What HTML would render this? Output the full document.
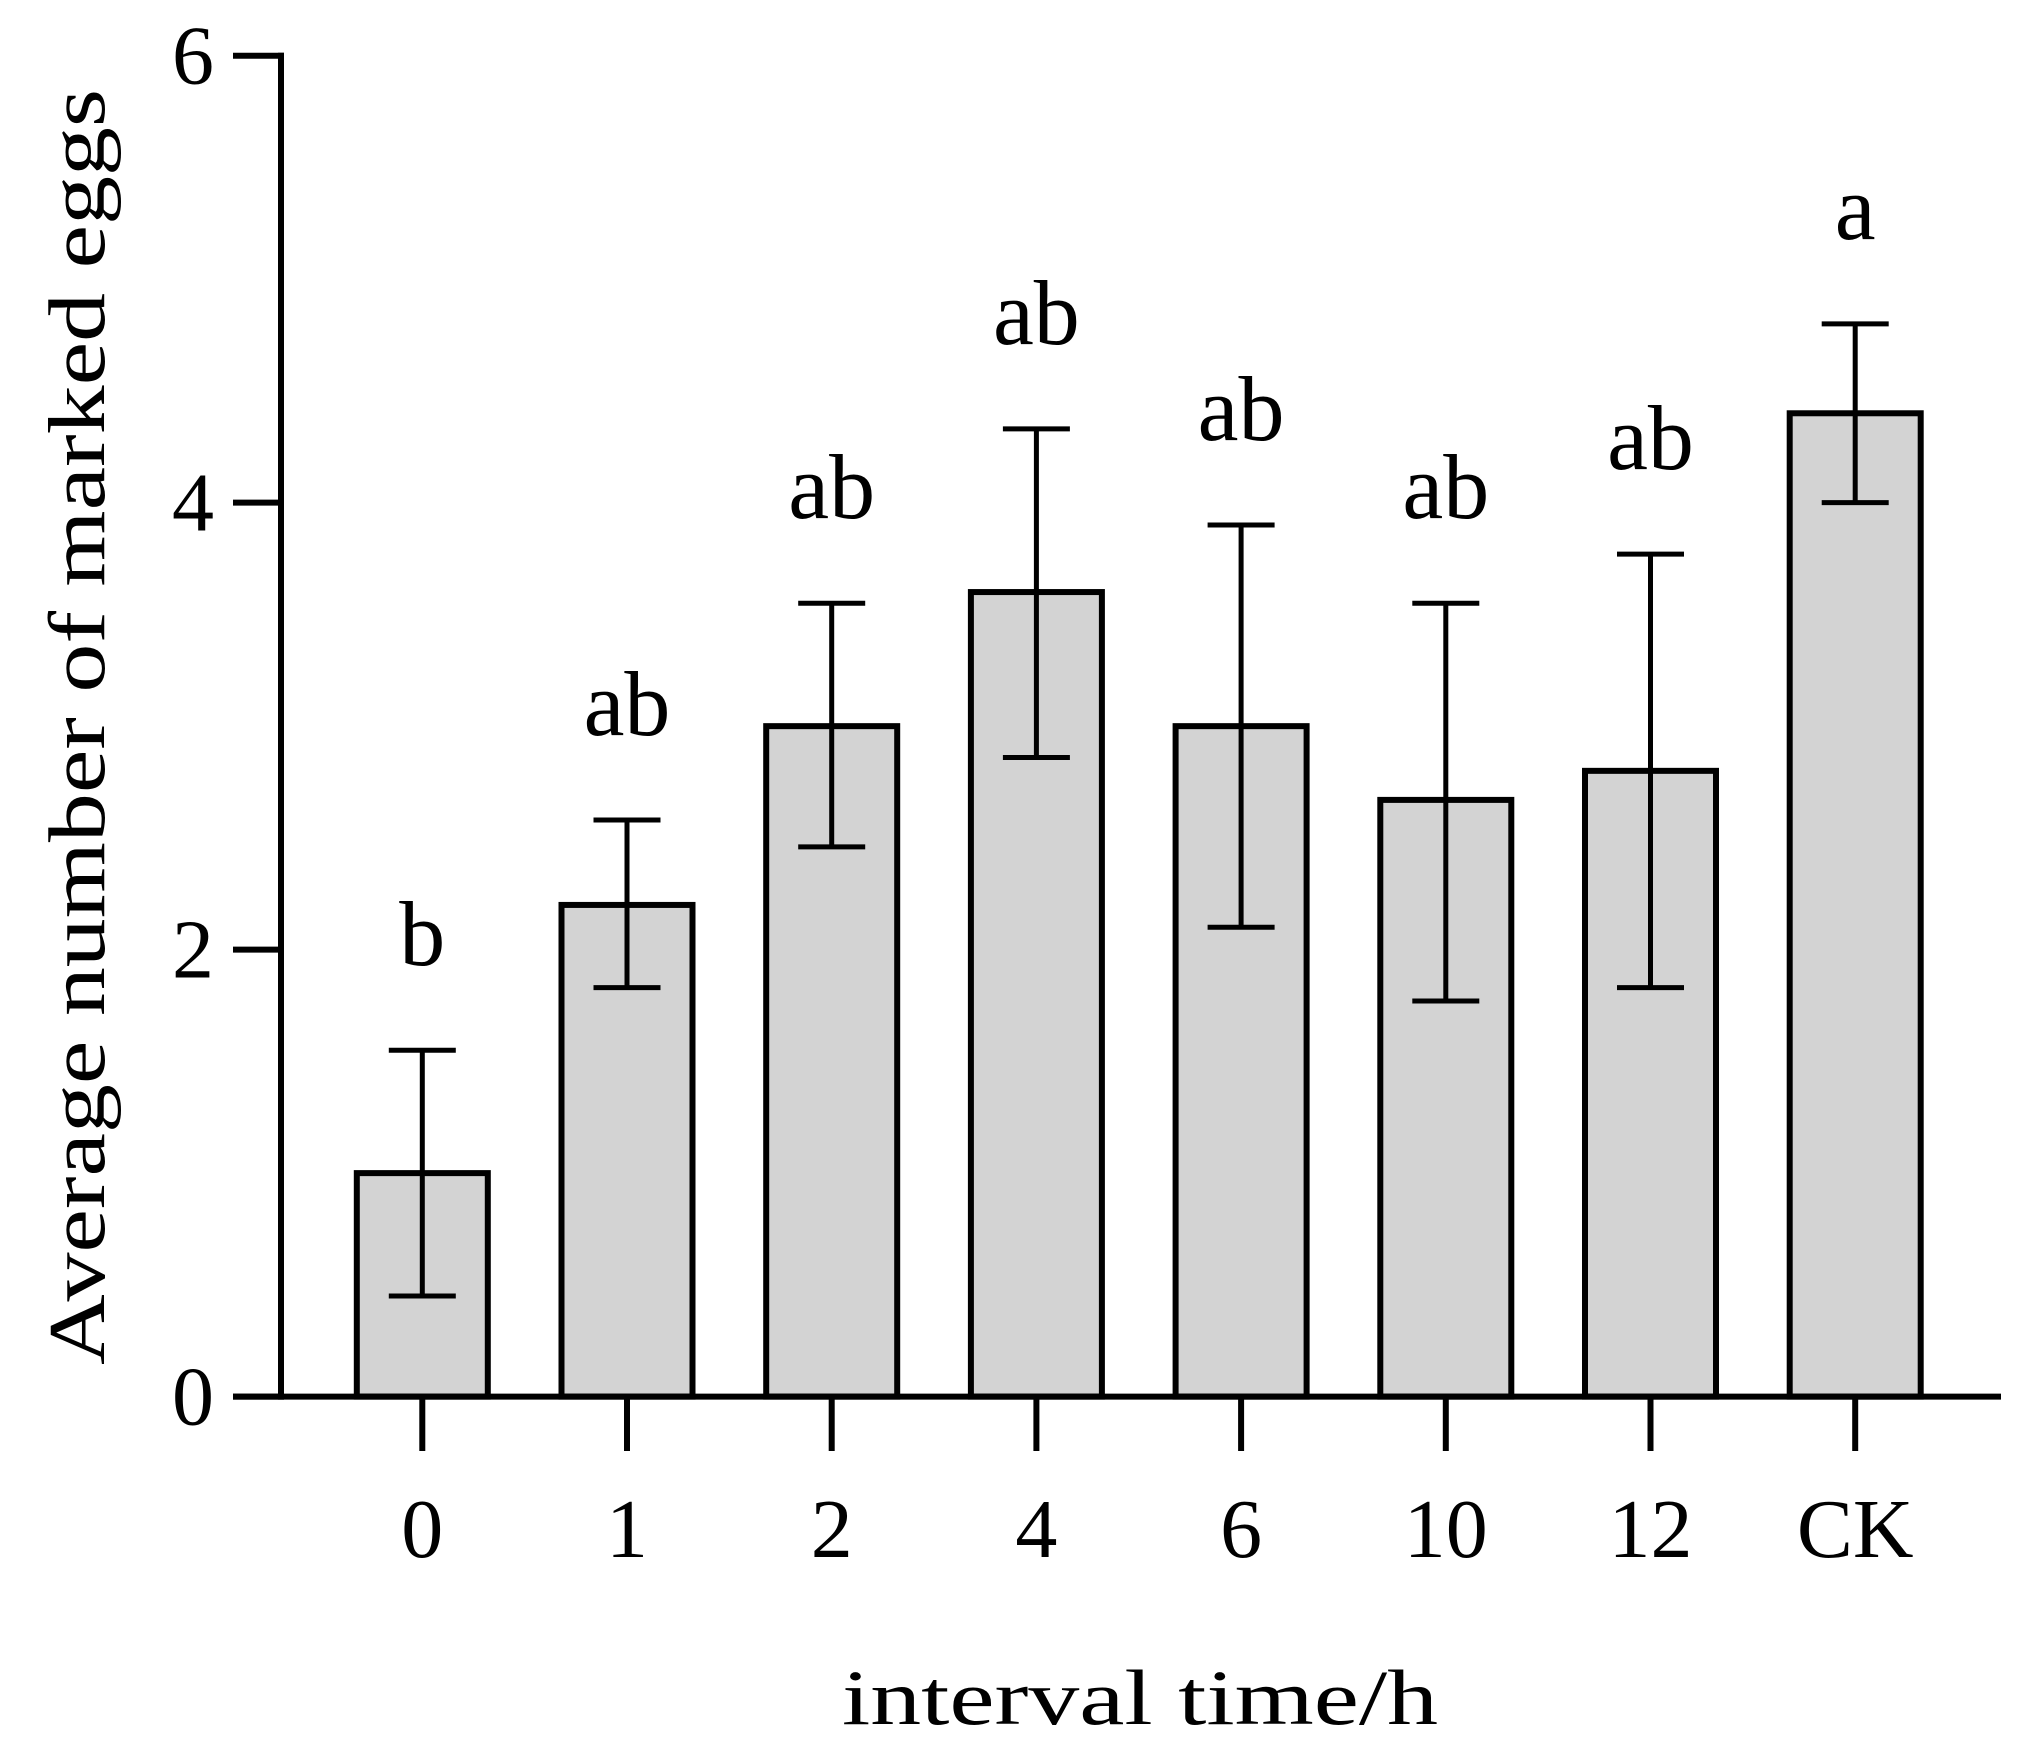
<!DOCTYPE html>
<html><head><meta charset="utf-8"><style>
html,body{margin:0;padding:0;background:#fff;}
svg{display:block;font-family:"Liberation Serif",serif;}
</style></head><body>
<svg id="chart" width="2021" height="1750" viewBox="0 0 2021 1750" xmlns="http://www.w3.org/2000/svg">
<g id="plot"></g>
<text x="1140" y="1724" font-size="78" text-anchor="middle" textLength="596" lengthAdjust="spacingAndGlyphs">interval time/h</text>
<text transform="translate(104,727) rotate(-90)" font-size="80" text-anchor="middle" textLength="1276" lengthAdjust="spacingAndGlyphs">Average number of marked eggs</text>
</svg>
<script>
const categories = ["0","1","2","4","6","10","12","CK"];
const means = [1.0, 2.2, 3.0, 3.6, 3.0, 2.67, 2.8, 4.4];
const errLow = [0.45, 1.83, 2.46, 2.86, 2.1, 1.77, 1.83, 4.0];
const errHigh = [1.55, 2.58, 3.55, 4.33, 3.9, 3.55, 3.77, 4.8];
const letters = ["b","ab","ab","ab","ab","ab","ab","a"];
const yTicks = [0, 2, 4, 6];

const NS = "http://www.w3.org/2000/svg";
const g = document.getElementById("plot");
const y0 = 1396.6, yTop = 55.7, yMax = 6;
const yScale = v => y0 - (v / yMax) * (y0 - yTop);
const x0 = 422.3, step = 204.7;
const xScale = i => x0 + i * step;
const barW = 131, capW = 67;
function mk(tag, attrs) { const e = document.createElementNS(NS, tag); for (const k in attrs) e.setAttribute(k, attrs[k]); g.appendChild(e); return e; }

let ax = mk("line", {x1: 281, y1: yTop - 3, x2: 281, y2: y0 + 3, stroke: "#000", "stroke-width": 6});


yTicks.forEach(t => {
  const y = yScale(t);
  const tk = mk("line", {x1: 233, y1: y, x2: 284, y2: y, stroke: "#000", "stroke-width": 6});
  
  
  const lb = mk("text", {x: 214, y: y + 28, "font-size": 84, "text-anchor": "end"});
  lb.textContent = t;
  
  
});
categories.forEach((c, i) => {
  const cx = xScale(i);
  const top = yScale(means[i]);
  const bar = mk("rect", {x: cx - barW/2, y: top, width: barW, height: y0 - top, fill: "#d3d3d3", stroke: "#000", "stroke-width": 6});
  
  
  const yl = yScale(errLow[i]), yh = yScale(errHigh[i]);
  const eb = mk("path", {d: `M${cx},${yl}V${yh}M${cx-capW/2},${yl}H${cx+capW/2}M${cx-capW/2},${yh}H${cx+capW/2}`, stroke: "#000", "stroke-width": 5, fill: "none"});
  
  
  const lt = mk("text", {x: cx, y: yh - 85, "font-size": 92, "text-anchor": "middle"});
  lt.textContent = letters[i];
  
  
  const tk = mk("line", {x1: cx, y1: y0, x2: cx, y2: 1451, stroke: "#000", "stroke-width": 6});
  
  
  const xl = mk("text", {x: cx, y: 1557, "font-size": 84, "text-anchor": "middle"});
  xl.textContent = c;
  
  
});
let xa = mk("line", {x1: 233, y1: y0, x2: 2001, y2: y0, stroke: "#000", "stroke-width": 6});


</script>
</body></html>
